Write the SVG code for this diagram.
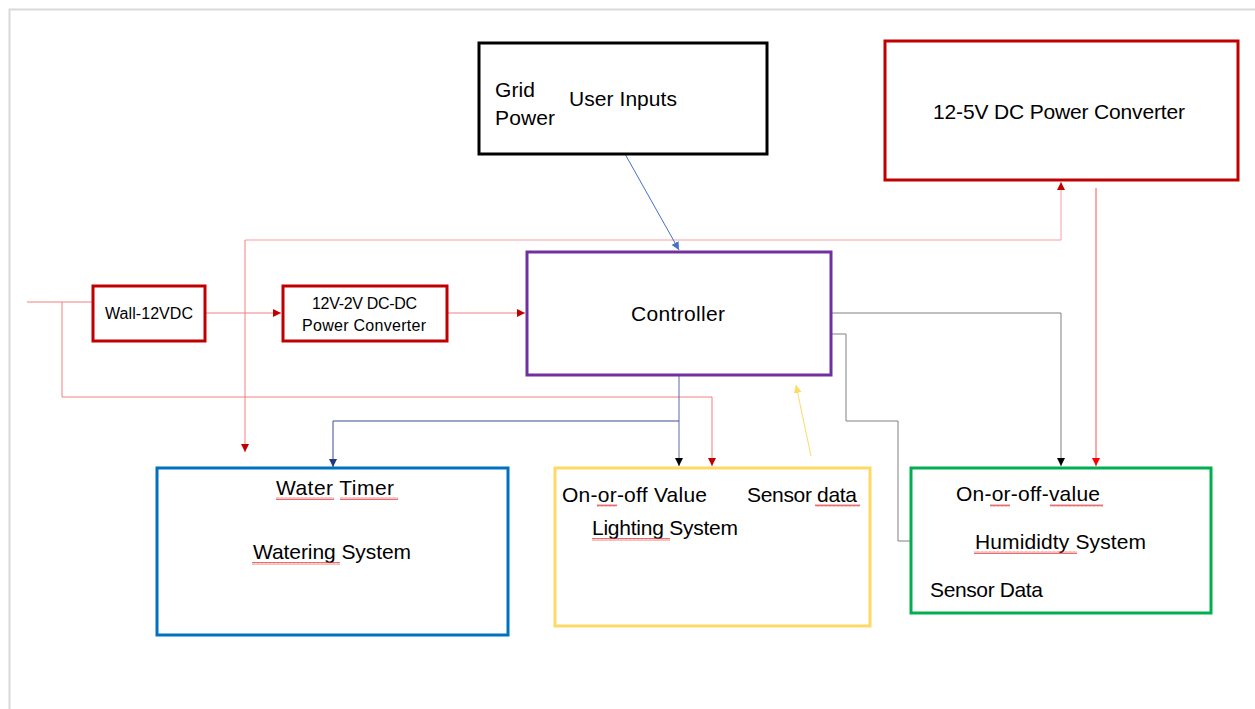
<svg xmlns="http://www.w3.org/2000/svg" width="1255" height="709" viewBox="0 0 1255 709">
<style>
  .box{fill:#fff;stroke-width:3}
  .t{font-family:"Liberation Sans",Arial,sans-serif;fill:#000}
  .big{font-size:21px}
  .sm{font-size:16px}
  .ln{fill:none;stroke-width:1}
</style>
<defs>
  <marker id="aDR" markerWidth="10" markerHeight="10" refX="8" refY="4" orient="auto" markerUnits="userSpaceOnUse"><path d="M0,0 L8,4 L0,8 Z" fill="#c00000"/></marker>
  <marker id="aR" markerWidth="10" markerHeight="10" refX="8" refY="4" orient="auto" markerUnits="userSpaceOnUse"><path d="M0,0 L8,4 L0,8 Z" fill="#ff0000"/></marker>
  <marker id="aK" markerWidth="10" markerHeight="10" refX="8" refY="4" orient="auto" markerUnits="userSpaceOnUse"><path d="M0,0 L8,4 L0,8 Z" fill="#000"/></marker>
  <marker id="aN" markerWidth="10" markerHeight="10" refX="8" refY="4" orient="auto" markerUnits="userSpaceOnUse"><path d="M0,0 L8,4 L0,8 Z" fill="#1f3a80"/></marker>
  <marker id="aB" markerWidth="10" markerHeight="10" refX="8" refY="4" orient="auto" markerUnits="userSpaceOnUse"><path d="M0,0 L8,4 L0,8 Z" fill="#4472c4"/></marker>
  <marker id="aY" markerWidth="10" markerHeight="10" refX="8" refY="4" orient="auto" markerUnits="userSpaceOnUse"><path d="M0,0 L8,4 L0,8 Z" fill="#ffd966"/></marker>
  <pattern id="sq" width="4" height="3" patternUnits="userSpaceOnUse"><polyline points="0,2.5 1,0.5 2,2.5 3,0.5 4,2.5" fill="none" stroke="#e03030" stroke-width="0.7"/></pattern>
</defs>
<rect x="0" y="0" width="1255" height="709" fill="#fff"/>
<path d="M9.5,709 V9.5 H1255" fill="none" stroke="#d9d9d9" stroke-width="2"/>

<g id="connectors">
  <path class="ln" stroke="#f08080" d="M27,302 H93"/>
  <path class="ln" stroke="#f08080" d="M62,302 V397 H712 V466" marker-end="url(#aDR)"/>
  <path class="ln" stroke="#f08080" d="M205,313 H281" marker-end="url(#aDR)"/>
  <path class="ln" stroke="#f08080" d="M447,313 H525" marker-end="url(#aDR)"/>
  <path class="ln" stroke="#f4a0a0" d="M245,240 H1061 V182" marker-end="url(#aDR)"/>
  <path class="ln" stroke="#f08080" d="M245,240 V452" marker-end="url(#aDR)"/>
  <path class="ln" stroke="#ff5050" d="M1096,188 V466" marker-end="url(#aR)"/>
  <path class="ln" stroke="#808080" d="M832,313 H1061 V466" marker-end="url(#aK)"/>
  <path class="ln" stroke="#808080" d="M911,541 H898 V421 H846 V334 H795" marker-end="url(#aK)"/>
  <path class="ln" stroke="#4472c4" d="M625,154 L679,250" marker-end="url(#aB)"/>
  <path class="ln" stroke="#5a6aa0" d="M679,376 V466" marker-end="url(#aK)"/>
  <path class="ln" stroke="#3a4a90" d="M679,421 H333 V467" marker-end="url(#aN)"/>
  <path class="ln" stroke="#ffd966" d="M811,456 L796,385" marker-end="url(#aY)"/>
</g>

<g id="user-inputs">
  <rect class="box" x="479" y="43" width="288" height="111" stroke="#000"/>
  <text class="t big" x="495" y="97" textLength="40">Grid</text>
  <text class="t big" x="495" y="125" textLength="60">Power</text>
  <text class="t big" x="569" y="106" textLength="108">User Inputs</text>
</g>

<g id="converter-12-5">
  <rect class="box" x="885" y="41" width="353" height="139" stroke="#c00000"/>
  <text class="t big" x="933" y="119" textLength="252">12-5V DC Power Converter</text>
</g>

<g id="wall-12vdc">
  <rect class="box" x="93" y="286" width="112" height="55" stroke="#c00000"/>
  <text class="t sm" x="105" y="319" textLength="88">Wall-12VDC</text>
</g>

<g id="converter-12-2">
  <rect class="box" x="283" y="286" width="164" height="55" stroke="#c00000"/>
  <text class="t sm" x="312" y="309" textLength="105">12V-2V DC-DC</text>
  <text class="t sm" x="302" y="331" textLength="124">Power Converter</text>
</g>

<g id="controller">
  <rect class="box" x="527" y="252" width="304" height="123" stroke="#7030a0"/>
  <text class="t big" x="631" y="321" textLength="94">Controller</text>
</g>

<g id="watering-system">
  <rect class="box" x="157" y="468" width="351" height="167" stroke="#0070c0"/>
  <text class="t big" x="276" y="495" textLength="118">Water Timer</text>
  <text class="t big" x="253" y="559" textLength="158">Watering System</text>
  <rect x="276" y="497" width="58" height="3" fill="url(#sq)"/>
  <rect x="340" y="497" width="58" height="3" fill="url(#sq)"/>
  <rect x="252" y="562" width="88" height="3" fill="url(#sq)"/>
</g>

<g id="lighting-system">
  <rect class="box" x="555" y="468" width="315" height="158" stroke="#ffd966"/>
  <text class="t big" x="562" y="502" textLength="145">On-or-off Value</text>
  <text class="t big" x="747" y="502" textLength="110">Sensor data</text>
  <text class="t big" x="592" y="535" textLength="146">Lighting System</text>
  <rect x="597" y="504" width="20" height="3" fill="url(#sq)"/>
  <rect x="815" y="504" width="45" height="3" fill="url(#sq)"/>
  <rect x="592" y="538" width="78" height="3" fill="url(#sq)"/>
</g>

<g id="humidity-system">
  <rect class="box" x="911" y="468" width="300" height="145" stroke="#00b050"/>
  <text class="t big" x="956" y="501" textLength="144">On-or-off-value</text>
  <text class="t big" x="975" y="549" textLength="171">Humididty System</text>
  <text class="t big" x="930" y="597" textLength="113">Sensor Data</text>
  <rect x="990" y="504" width="20" height="3" fill="url(#sq)"/>
  <rect x="1050" y="504" width="53" height="3" fill="url(#sq)"/>
  <rect x="974" y="551" width="103" height="3" fill="url(#sq)"/>
</g>
</svg>
